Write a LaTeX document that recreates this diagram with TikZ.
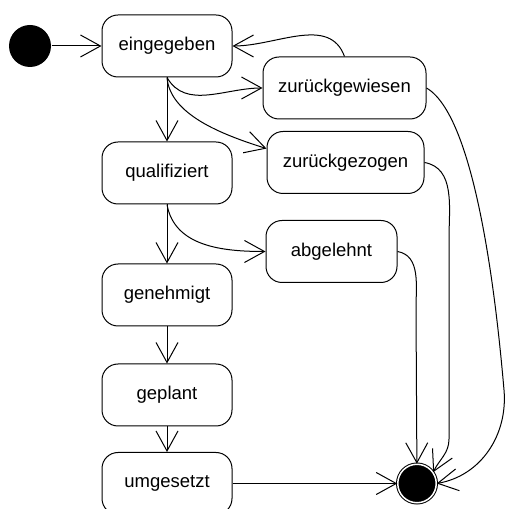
\documentclass[tikz,border=0pt]{standalone}
\usepackage{fontspec}
\setmainfont{Liberation Sans}
\usetikzlibrary{arrows.meta}

\tikzset{
	state/.style={draw, rounded corners=16pt, minimum width=130pt, minimum height=62pt, inner xsep=11pt, font=\fontsize{18.5}{22}\selectfont},
	arr/.style={-{Straight Barb[length=20pt,width=22pt]}}
}

\begin{document}
\begin{tikzpicture}[x=1pt, y=1pt, line width=1pt]
			\useasboundingbox (0,0) rectangle (505,509);
			\node [circle, fill=black, minimum size=42pt, inner sep=0pt] (start) at (30,463) {};
			\node [state] (eingegeben) at (167,463) {eingegeben};
			\node [state] (qualifiziert) at (167,336) {qualifiziert};
			\node [state] (genehmigt) at (167,214) {genehmigt};
			\node [state] (geplant) at (167,114) {geplant};
			\node [state] (umgesetzt) at (167,25.5) {umgesetzt};
			\node [state, minimum width=163pt] (zurueckgewiesen) at (344.5,421) {zurückgewiesen};
			\node [state, minimum width=157pt] (zurueckgezogen) at (345.5,346.5) {zurückgezogen};
			\node [state, minimum width=131pt] (abgelehnt) at (331.5,257.5) {abgelehnt};
			\node [circle, draw, fill=black, double=white, double distance=1.5pt, minimum size=38.5pt, inner sep=0pt] (final) at (417,25.5) {};
			\draw [arr] (start) -- (eingegeben);
			\draw [arr] (eingegeben) -- (qualifiziert);
			\draw [arr] (qualifiziert) -- (genehmigt);
			\draw [arr] (genehmigt) -- (geplant);
			\draw [arr] (geplant) -- (umgesetzt);
			\draw [arr] (umgesetzt) -- (final);
			\draw [arr] (zurueckgewiesen.north) to [out=110, in=0] (eingegeben.east);
			\draw [arr] (eingegeben.south) to [out=-60, in=180] (zurueckgewiesen.west);
			\draw [arr] (eingegeben.south) .. controls (170,395) and (220,375) .. (zurueckgezogen.170);
			\draw [arr] (qualifiziert.south) to [out=-80, in=180] (abgelehnt.west);
			\draw [arr] (zurueckgewiesen.east) to [out=-30, in=95, looseness=0.5] (504,119) to [out=-85, in=10] (final.east);
			\draw [arr] (zurueckgezogen.east) to [out=-10, in=90] (449,270) -- (449,70) to [out=-90, in=64] (final.35);
			\draw [arr] (abgelehnt.east) to [out=-10, in=90] (416,200) -- (final);
		\end{tikzpicture}
\end{document}
